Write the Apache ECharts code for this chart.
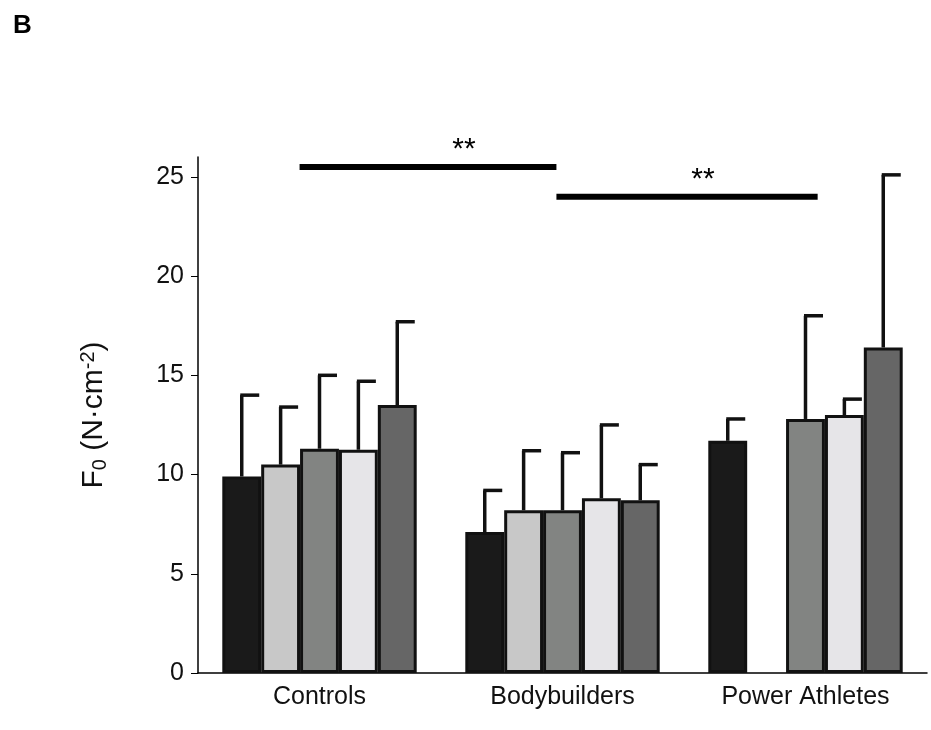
<!DOCTYPE html>
<html><head><meta charset="utf-8">
<script src="https://cdn.jsdelivr.net/npm/echarts@6/dist/echarts.min.js"></script>
<style>body{margin:0}#c{width:931px;height:730px}</style></head>
<body><div id="c"></div>
<script>
const categories = ['Controls', 'Bodybuilders', 'Power Athletes'];
const means = [
  [9.9, 7.1, 11.7],
  [10.5, 8.2, null],
  [11.3, 8.2, 12.8],
  [11.25, 8.8, 13.0],
  [13.5, 8.7, 16.4]
];
const upper = [
  [14.0, 9.2, 12.8],
  [13.4, 11.2, null],
  [15.0, 11.1, 18.0],
  [14.7, 12.5, 13.8],
  [17.7, 10.5, 25.1]
];
const colors = ['#1a1a1a', '#c8c8c8', '#828482', '#e6e5e8', '#666666'];
// significance bars: [fromCat, toCat, y]
const sig = [[-0.082, 0.975, 25.5, '**'], [0.975, 2.05, 24, '**']];

const chart = echarts.init(document.getElementById('c'));
const series = [];
means.forEach((m, i) => {
  series.push({type: 'bar', data: m, barGap: '0%', barCategoryGap: '20%',
    itemStyle: {color: colors[i], borderColor: '#111', borderWidth: 3}, z: 2});
});
means.forEach((m, i) => {
  series.push({type: 'custom', z: 1,
    data: m.map((v, j) => v == null ? null : [j, v, upper[i][j]]).filter(d => d),
    renderItem: (params, api) => {
      const cw = api.size([1, 0])[0];
      const bw = cw * 0.8 / 5;
      const off = (i - 2) * bw;
      const p0 = api.coord([api.value(0), api.value(1)]);
      const p1 = api.coord([api.value(0), api.value(2)]);
      const x = p0[0] + off;
      const st = {stroke: '#111', lineWidth: 3.5};
      return {type: 'group', children: [
        {type: 'line', shape: {x1: x, y1: p0[1], x2: x, y2: p1[1]}, style: st},
        {type: 'line', shape: {x1: x - 1.5, y1: p1[1], x2: x + bw * 0.45, y2: p1[1]}, style: st}
      ]};
    }});
});
series.push({type: 'custom', z: 3, data: sig.map(s => [s[0], s[1], s[2]]),
  renderItem: (params, api) => {
    const s = sig[params.dataIndex];
    const a = api.coord([0, s[2]]);
    const cw = api.size([1, 0])[0];
    const x1 = a[0] + s[0] * cw, x2 = a[0] + s[1] * cw;
    return {type: 'group', children: [
      {type: 'line', shape: {x1, y1: a[1], x2, y2: a[1]}, style: {stroke: '#000', lineWidth: 6}},
      {type: 'text', style: {text: s[3], x: (x1 + x2) / 2 + (params.dataIndex ? 16 : 36), y: a[1] - 2,
        textAlign: 'center', textVerticalAlign: 'bottom', font: '30px Arial', fill: '#000'}}
    ]};
  }});

chart.setOption({
  animation: false,
  title: {text: 'B', left: 8, top: 8, textStyle: {fontSize: 26, fontWeight: 'bold', color: '#000', fontFamily: 'Arial'}},
  grid: {left: 198, right: 4, top: 157, bottom: 57},
  xAxis: {type: 'category', data: categories,
    axisLine: {lineStyle: {color: '#000', width: 1.5}}, axisTick: {show: false},
    axisLabel: {fontSize: 25, color: '#111', fontFamily: 'Arial', margin: 12}},
  yAxis: {type: 'value', min: 0, max: 26, interval: 5,
    splitLine: {show: false},
    axisLine: {show: true, lineStyle: {color: '#000', width: 1.5}},
    axisTick: {show: true, inside: false, length: 7, lineStyle: {color: '#000'}},
    axisLabel: {fontSize: 25, color: '#111', fontFamily: 'Arial', margin: 14, showMaxLabel: false},
    name: '{a|F}{s|0}{a| (N·cm}{p|-2}{a|)}', nameLocation: 'middle', nameGap: 88, nameRotate: 90,
    nameTextStyle: {rich: {
      a: {fontSize: 30, fontFamily: 'Arial', color: '#111'},
      s: {fontSize: 20, fontFamily: 'Arial', color: '#111', verticalAlign: 'bottom', padding: [12,0,0,0]},
      p: {fontSize: 20, fontFamily: 'Arial', color: '#111', verticalAlign: 'top', padding: [0,0,12,0]}
    }}},
  series
});
</script></body></html>
